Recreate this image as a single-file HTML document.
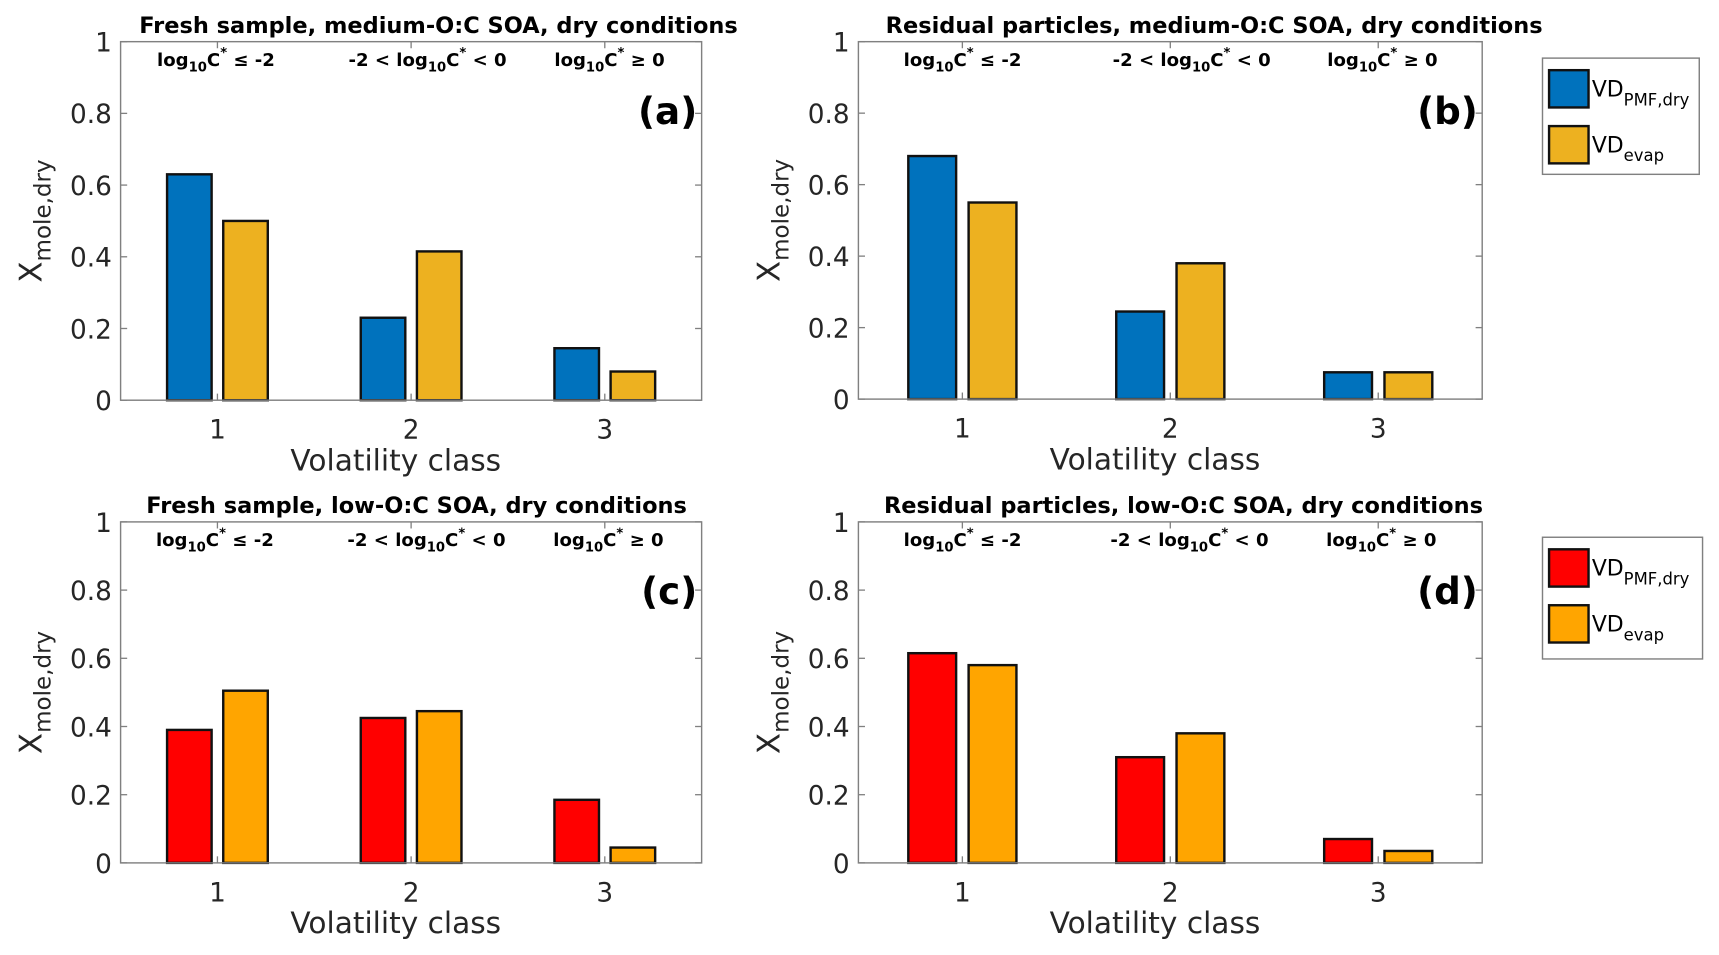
<!DOCTYPE html>
<html><head><meta charset="utf-8"><style>
html,body{margin:0;padding:0;background:#fff;}
svg{display:block;font-family:"DejaVu Sans","Liberation Sans",sans-serif;}
</style></head><body>
<svg id="fig" width="1719" height="955" viewBox="0 0 1568 871" preserveAspectRatio="none" xmlns="http://www.w3.org/2000/svg"></svg>
<script>
const categories = [1, 2, 3];
const yTicks = [0, 0.2, 0.4, 0.6, 0.8, 1];
const yTickLabels = ["0", "0.2", "0.4", "0.6", "0.8", "1"];
const aPmf = [0.63, 0.23, 0.145];
const aEvap = [0.50, 0.415, 0.08];
const bPmf = [0.68, 0.245, 0.075];
const bEvap = [0.55, 0.38, 0.075];
const cPmf = [0.39, 0.425, 0.185];
const cEvap = [0.505, 0.445, 0.045];
const dPmf = [0.615, 0.31, 0.07];
const dEvap = [0.58, 0.38, 0.035];

const NS = "http://www.w3.org/2000/svg";
const svg = document.getElementById("fig");
function mk(tag, attrs, parent) {
  const e = document.createElementNS(NS, tag);
  for (const k in attrs) e.setAttribute(k, attrs[k]);
  (parent || svg).appendChild(e);
  return e;
}

function panel(cfg) {
  const g = mk("g", {});
  
  
  const x = v => cfg.x0 + (v - 0.5) / 3 * (cfg.x1 - cfg.x0);
  const y = v => cfg.y1 - v * (cfg.y1 - cfg.y0);
  const unit = (cfg.x1 - cfg.x0) / 3;
  const bw = 0.23 * unit, off = 0.145 * unit;
  categories.forEach((c, i) => {
    const r1 = mk("rect", {x: x(c) - off - bw / 2, y: y(cfg.s1[i]), width: bw, height: y(0) - y(cfg.s1[i]), fill: cfg.c1, stroke: "#111", "stroke-width": 2.2}, g);
    
    
    const r2 = mk("rect", {x: x(c) + off - bw / 2, y: y(cfg.s2[i]), width: bw, height: y(0) - y(cfg.s2[i]), fill: cfg.c2, stroke: "#111", "stroke-width": 2.2}, g);
    
    
  });
  const box = mk("rect", {x: cfg.x0, y: cfg.y0, width: cfg.x1 - cfg.x0, height: cfg.y1 - cfg.y0, fill: "none", stroke: "#808080", "stroke-width": 1.3}, g);
  
  
  yTicks.forEach((t, i) => {
    mk("line", {x1: cfg.x0, x2: cfg.x0 + 6, y1: y(t), y2: y(t), stroke: "#808080", "stroke-width": 1.2}, g);
    mk("line", {x1: cfg.x1, x2: cfg.x1 - 6, y1: y(t), y2: y(t), stroke: "#808080", "stroke-width": 1.2}, g);
    const tl = mk("text", {x: cfg.x0 - 8, y: y(t) + 9, "text-anchor": "end", "font-size": 24, fill: "#262626"}, g);
    tl.textContent = yTickLabels[i];
    
    
  });
  categories.forEach(c => {
    mk("line", {x1: x(c), x2: x(c), y1: cfg.y1, y2: cfg.y1 - 6, stroke: "#808080", "stroke-width": 1.2}, g);
    mk("line", {x1: x(c), x2: x(c), y1: cfg.y0, y2: cfg.y0 + 6, stroke: "#808080", "stroke-width": 1.2}, g);
    const tl = mk("text", {x: x(c), y: cfg.y1 + 35, "text-anchor": "middle", "font-size": 24, fill: "#262626"}, g);
    tl.textContent = String(c);
    
    
  });
  const xt = mk("text", {x: (cfg.x0 + cfg.x1) / 2 - 14, y: cfg.y1 + 64, "text-anchor": "middle", "font-size": 27, fill: "#262626"}, g);
  xt.textContent = "Volatility class";
  
  
  const yc = (cfg.y0 + cfg.y1) / 2;
  const yt = mk("text", {x: 0, y: 0, transform: `translate(${cfg.x0 - 72},${yc}) rotate(-90)`, "text-anchor": "middle", "font-size": 28, fill: "#262626"}, g);
  yt.innerHTML = 'X<tspan font-size="21" dy="8">mole,dry</tspan>';
  
  
  const tt = mk("text", {x: (cfg.x0 + cfg.x1) / 2 + cfg.tdx, y: cfg.y0 - 8, "text-anchor": "middle", "font-size": 20.5, "font-weight": "bold", fill: "#000"}, g);
  tt.textContent = cfg.title;
  
  
  const ann = [
    'log<tspan font-size="12" dy="5">10</tspan><tspan dy="-5">C</tspan><tspan font-size="12" dy="-8">*</tspan><tspan dy="8"> ≤ -2</tspan>',
    '-2 &lt; log<tspan font-size="12" dy="5">10</tspan><tspan dy="-5">C</tspan><tspan font-size="12" dy="-8">*</tspan><tspan dy="8"> &lt; 0</tspan>',
    'log<tspan font-size="12" dy="5">10</tspan><tspan dy="-5">C</tspan><tspan font-size="12" dy="-8">*</tspan><tspan dy="8"> ≥ 0</tspan>'
  ];
  ann.forEach((a, i) => {
    const at = mk("text", {x: cfg.annX[i], y: cfg.y0 + 22, "text-anchor": "middle", "font-size": 16.5, "font-weight": "bold", fill: "#000"}, g);
    at.innerHTML = a;
    
    
  });
  const pl = mk("text", {x: cfg.x1 - 4, y: cfg.y0 + 75, "text-anchor": "end", "font-size": 34, "font-weight": "bold", fill: "#000"}, g);
  pl.textContent = cfg.label;
  
  
}

function legend(cfg) {
  const g = mk("g", {});
  
  
  mk("rect", {x: cfg.x, y: cfg.y, width: cfg.w, height: cfg.h, fill: "#fff", stroke: "#808080", "stroke-width": 1.3}, g);
  [[cfg.c1, 'VD<tspan font-size="15" dy="8">PMF,dry</tspan>', 11], [cfg.c2, 'VD<tspan font-size="15" dy="8">evap</tspan>', 62]].forEach((e) => {
    const s = mk("rect", {x: cfg.x + 6, y: cfg.y + e[2], width: 36, height: 34, fill: e[0], stroke: "#111", "stroke-width": 2.2}, g);
    
    
    const t = mk("text", {x: cfg.x + 45, y: cfg.y + e[2] + 24, "font-size": 20, fill: "#000"}, g);
    t.innerHTML = e[1];
    
    
  });
}

const BLUE = "#0072BD", YEL = "#EDB120", RED = "#FF0000", ORG = "#FFA500";
panel({name: "panel-a", x0: 110, x1: 640, y0: 38, y1: 365, s1: aPmf, s2: aEvap, c1: BLUE, c2: YEL, title: "Fresh sample, medium-O:C SOA, dry conditions", tdx: 25, label: "(a)", annX: [197, 390, 556]});
panel({name: "panel-b", x0: 783, x1: 1352, y0: 38, y1: 364, s1: bPmf, s2: bEvap, c1: BLUE, c2: YEL, title: "Residual particles, medium-O:C SOA, dry conditions", tdx: 40, label: "(b)", annX: [878, 1087, 1261]});
panel({name: "panel-c", x0: 110, x1: 640, y0: 476, y1: 787, s1: cPmf, s2: cEvap, c1: RED, c2: ORG, title: "Fresh sample, low-O:C SOA, dry conditions", tdx: 5, label: "(c)", annX: [196, 389, 555]});
panel({name: "panel-d", x0: 783, x1: 1352, y0: 476, y1: 787, s1: dPmf, s2: dEvap, c1: RED, c2: ORG, title: "Residual particles, low-O:C SOA, dry conditions", tdx: 12, label: "(d)", annX: [878, 1085, 1260]});
legend({x: 1407, y: 53, w: 143, h: 106, c1: BLUE, c2: YEL});
legend({x: 1407, y: 490, w: 146, h: 111, c1: RED, c2: ORG});
</script>
</body></html>
